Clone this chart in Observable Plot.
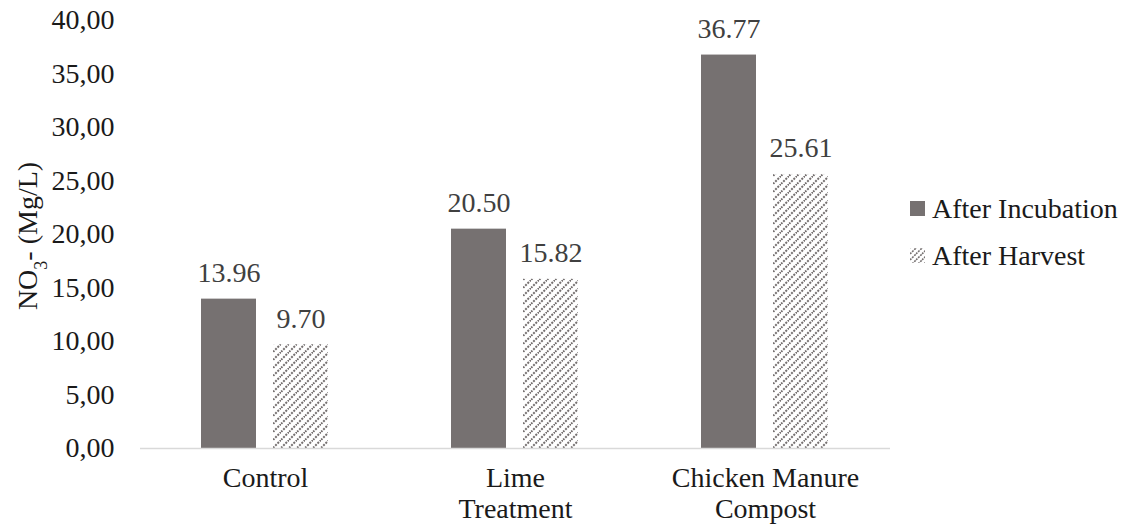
<!DOCTYPE html>
<html>
<head>
<meta charset="utf-8">
<script src="https://cdn.jsdelivr.net/npm/d3@7"></script>
<script src="https://cdn.jsdelivr.net/npm/@observablehq/plot@0.6"></script>
<style>
  body { margin: 0; background: #fff; font-family: 'Liberation Serif', 'Tinos', 'DejaVu Serif', serif; }
  #wrap { position: relative; width: 1131px; height: 528px; }
  #wrap svg text { font-family: 'Liberation Serif', 'Tinos', 'DejaVu Serif', serif; }
  .legend { position: absolute; left: 910px; top: 185px; font-size: 28px; color: #1a1a1a; line-height: 47px; }
  .legend .item { display: flex; align-items: center; white-space: nowrap; }
</style>
</head>
<body>
<div id="wrap"></div>
<script>
const categories = ["Control", "Lime Treatment", "Chicken Manure Compost"];
const categoryLabels = ["Control", "Lime\nTreatment", "Chicken Manure\nCompost"];
const series = ["After Incubation", "After Harvest"];
const afterIncubation = [13.96, 20.50, 36.77];
const afterHarvest = [9.70, 15.82, 25.61];
const yTicks = [0, 5, 10, 15, 20, 25, 30, 35, 40];

const data = [];
categories.forEach((c, i) => {
  data.push({category: c, series: series[0], value: afterIncubation[i]});
  data.push({category: c, series: series[1], value: afterHarvest[i]});
});

const fillFor = s => s === series[0] ? "#767171" : "url(#hatch)";
const labelMap = new Map(categories.map((c, i) => [c, categoryLabels[i]]));
const FONT = "'Liberation Serif', 'Tinos', 'DejaVu Serif', serif";

const chart = Plot.plot({
  width: 1131,
  height: 528,
  marginLeft: 139,
  marginRight: 240,
  marginTop: 20,
  marginBottom: 80,
  style: {fontFamily: FONT, fontSize: "28px", background: "#fff"},
  fx: {domain: categories, padding: 0, axis: null},
  x: {domain: series, paddingInner: 0.236, paddingOuter: 0.854, axis: null},
  y: {domain: [0, 40], ticks: yTicks, axis: null},
  marks: [
    Plot.axisY({ticks: yTicks, tickSize: 0, tickPadding: 26, tickFormat: d => d.toFixed(2).replace(".", ","), label: null, fill: "#1a1a1a", fontSize: 28}),
    Plot.axisFx({anchor: "bottom", tickSize: 0, tickPadding: 16, tickFormat: d => labelMap.get(d), label: null, fill: "#1a1a1a", fontSize: 28, lineHeight: 1.12}),
    Plot.barY(data, {fx: "category", x: "series", y: "value", fill: d => fillFor(d.series)}),
    Plot.ruleY([0], {stroke: "#d9d9d9", strokeWidth: 1.5}),
    Plot.text(data, {fx: "category", x: "series", y: "value", text: d => d.value.toFixed(2), dy: -17, lineAnchor: "bottom", fill: "#404040", fontSize: 28})
  ]
});

const svg = d3.select(chart.tagName.toLowerCase() === "svg" ? chart : chart.querySelector("svg"));
const defs = svg.insert("defs", ":first-child");
const pat = defs.append("pattern").attr("id", "hatch").attr("patternUnits", "userSpaceOnUse").attr("width", 8).attr("height", 8);
pat.append("path").attr("d", "M-2,2 L2,-2 M0,8 L8,0 M6,10 L10,6")
  .attr("stroke", "#767171").attr("stroke-width", 2).attr("stroke-dasharray", "2 1.2").attr("fill", "none");

const yl = svg.append("text")
  .attr("transform", "translate(37,236) rotate(-90)")
  .attr("text-anchor", "middle")
  .attr("fill", "#1a1a1a")
  .attr("font-size", 28)
  .style("font-family", FONT);
yl.append("tspan").text("NO");
yl.append("tspan").attr("baseline-shift", "sub").attr("font-size", 18).text("3");
yl.append("tspan").text("- (Mg/L)");

const wrap = document.getElementById("wrap");
wrap.appendChild(chart);

const legend = document.createElement("div");
legend.className = "legend";
series.forEach(s => {
  const item = document.createElement("div");
  item.className = "item";
  const sw = document.createElementNS("http://www.w3.org/2000/svg", "svg");
  sw.setAttribute("width", 15); sw.setAttribute("height", 15);
  sw.style.marginRight = "7px";
  if (s === series[0]) {
    sw.innerHTML = '<rect width="15" height="15" fill="#767171"/>';
  } else {
    sw.innerHTML = '<defs><pattern id="hatchL" patternUnits="userSpaceOnUse" width="6" height="6"><path d="M-2,2 L2,-2 M0,6 L6,0 M4,8 L8,4" stroke="#767171" stroke-width="1.6" stroke-dasharray="2 1"/></pattern></defs><rect width="15" height="15" fill="url(#hatchL)"/>';
  }
  item.appendChild(sw);
  const t = document.createElement("span");
  t.textContent = s;
  item.appendChild(t);
  legend.appendChild(item);
});
wrap.appendChild(legend);
</script>
</body>
</html>
